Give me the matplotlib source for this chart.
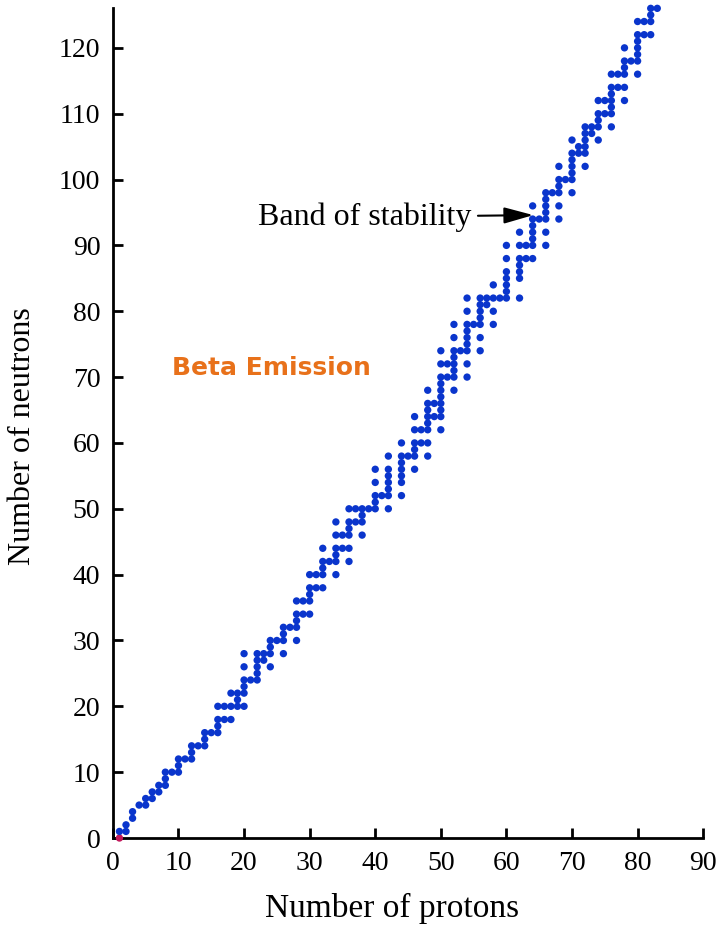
import matplotlib
matplotlib.use("Agg")
import matplotlib.pyplot as plt
import numpy as np

# stable nuclides: neutron numbers for each proton number Z = 1..83
protons = list(range(1, 84))
neutrons_by_z = [
    [0, 1], [1, 2], [3, 4], [5], [5, 6], [6, 7], [7, 8], [8, 9, 10], [10], [10, 11, 12],
    [12], [12, 13, 14], [14], [14, 15, 16], [16], [16, 17, 18, 20], [18, 20], [18, 20, 22],
    [20, 21, 22], [20, 22, 23, 24, 26, 28], [24], [24, 25, 26, 27, 28], [27, 28],
    [26, 28, 29, 30], [30], [28, 30, 31, 32], [32], [30, 32, 33, 34, 36], [34, 36],
    [34, 36, 37, 38, 40], [38, 40], [38, 40, 41, 42, 44], [42], [40, 42, 43, 44, 46, 48],
    [44, 46], [42, 44, 46, 47, 48, 50], [48, 50], [46, 48, 49, 50], [50], [50, 51, 52, 54, 56],
    [52], [50, 52, 53, 54, 55, 56, 58], [], [52, 54, 55, 56, 57, 58, 60], [58],
    [56, 58, 59, 60, 62, 64], [60, 62], [58, 60, 62, 63, 64, 65, 66, 68], [64, 66],
    [62, 64, 65, 66, 67, 68, 69, 70, 72, 74], [70, 72], [68, 70, 71, 72, 73, 74, 76, 78], [74],
    [70, 72, 74, 75, 76, 77, 78, 80, 82], [78], [74, 76, 78, 79, 80, 81, 82], [81, 82],
    [78, 80, 82, 84], [82], [82, 83, 84, 85, 86, 88, 90], [], [82, 85, 86, 87, 88, 90, 92],
    [88, 90], [88, 90, 91, 92, 93, 94, 96], [94], [90, 92, 94, 95, 96, 97, 98], [98],
    [94, 96, 98, 99, 100, 102], [100], [98, 100, 101, 102, 103, 104, 106], [104, 105],
    [102, 104, 105, 106, 107, 108], [107, 108], [106, 108, 109, 110, 112], [110, 112],
    [108, 110, 111, 112, 113, 114, 116], [114, 116], [112, 114, 116, 117, 118, 120], [118],
    [116, 118, 119, 120, 121, 122, 124], [122, 124], [122, 124, 125, 126], [126],
]

xticks = list(range(0, 91, 10))
yticks = list(range(0, 121, 10))

z_pts = []
n_pts = []
for z, ns in zip(protons, neutrons_by_z):
    for n in ns:
        z_pts.append(z)
        n_pts.append(n)

DOT = "#0a35cc"
dot_colors = [DOT] * len(z_pts)
dot_colors[0] = "#c2185b"  # the hydrogen dot sits on the axis, looks reddish in the scan

plt.rcParams["font.family"] = ["Liberation Serif", "DejaVu Serif"]

fig = plt.figure(figsize=(7.19, 9.27), dpi=100)
ax = fig.add_axes([0.157, 0.096, 0.821, 0.895])

ax.scatter(z_pts, n_pts, s=28, c=dot_colors, edgecolors="none", clip_on=False, zorder=3)

ax.set_xlim(0, 90)
ax.set_ylim(0, 126)
ax.set_xticks(xticks)
ax.set_yticks(yticks)
ax.tick_params(direction="in", length=7, width=2, labelsize=20, pad=9)
for side in ["top", "right"]:
    ax.spines[side].set_visible(False)
for side in ["left", "bottom"]:
    ax.spines[side].set_linewidth(2)

ax.set_xlabel("Number of protons", fontsize=24)
ax.set_ylabel("Number of neutrons", fontsize=23)
ax.xaxis.set_label_coords(0.473, -0.066)
ax.yaxis.set_label_coords(-0.128, 0.4845)

ax.annotate("Band of stability", xy=(64.1, 94.6), xytext=(54.6, 94.3),
            ha="right", va="center", fontsize=23,
            arrowprops=dict(arrowstyle="-|>,head_length=0.9,head_width=0.25",
                            color="black", lw=1.5,
                            mutation_scale=20, shrinkA=3, shrinkB=0))

ax.text(9.0, 71.4, "Beta Emission", color="#e8711a", fontsize=18,
        family="DejaVu Sans", fontweight="bold", ha="left", va="center")

fig.savefig("out.png", dpi=100)
